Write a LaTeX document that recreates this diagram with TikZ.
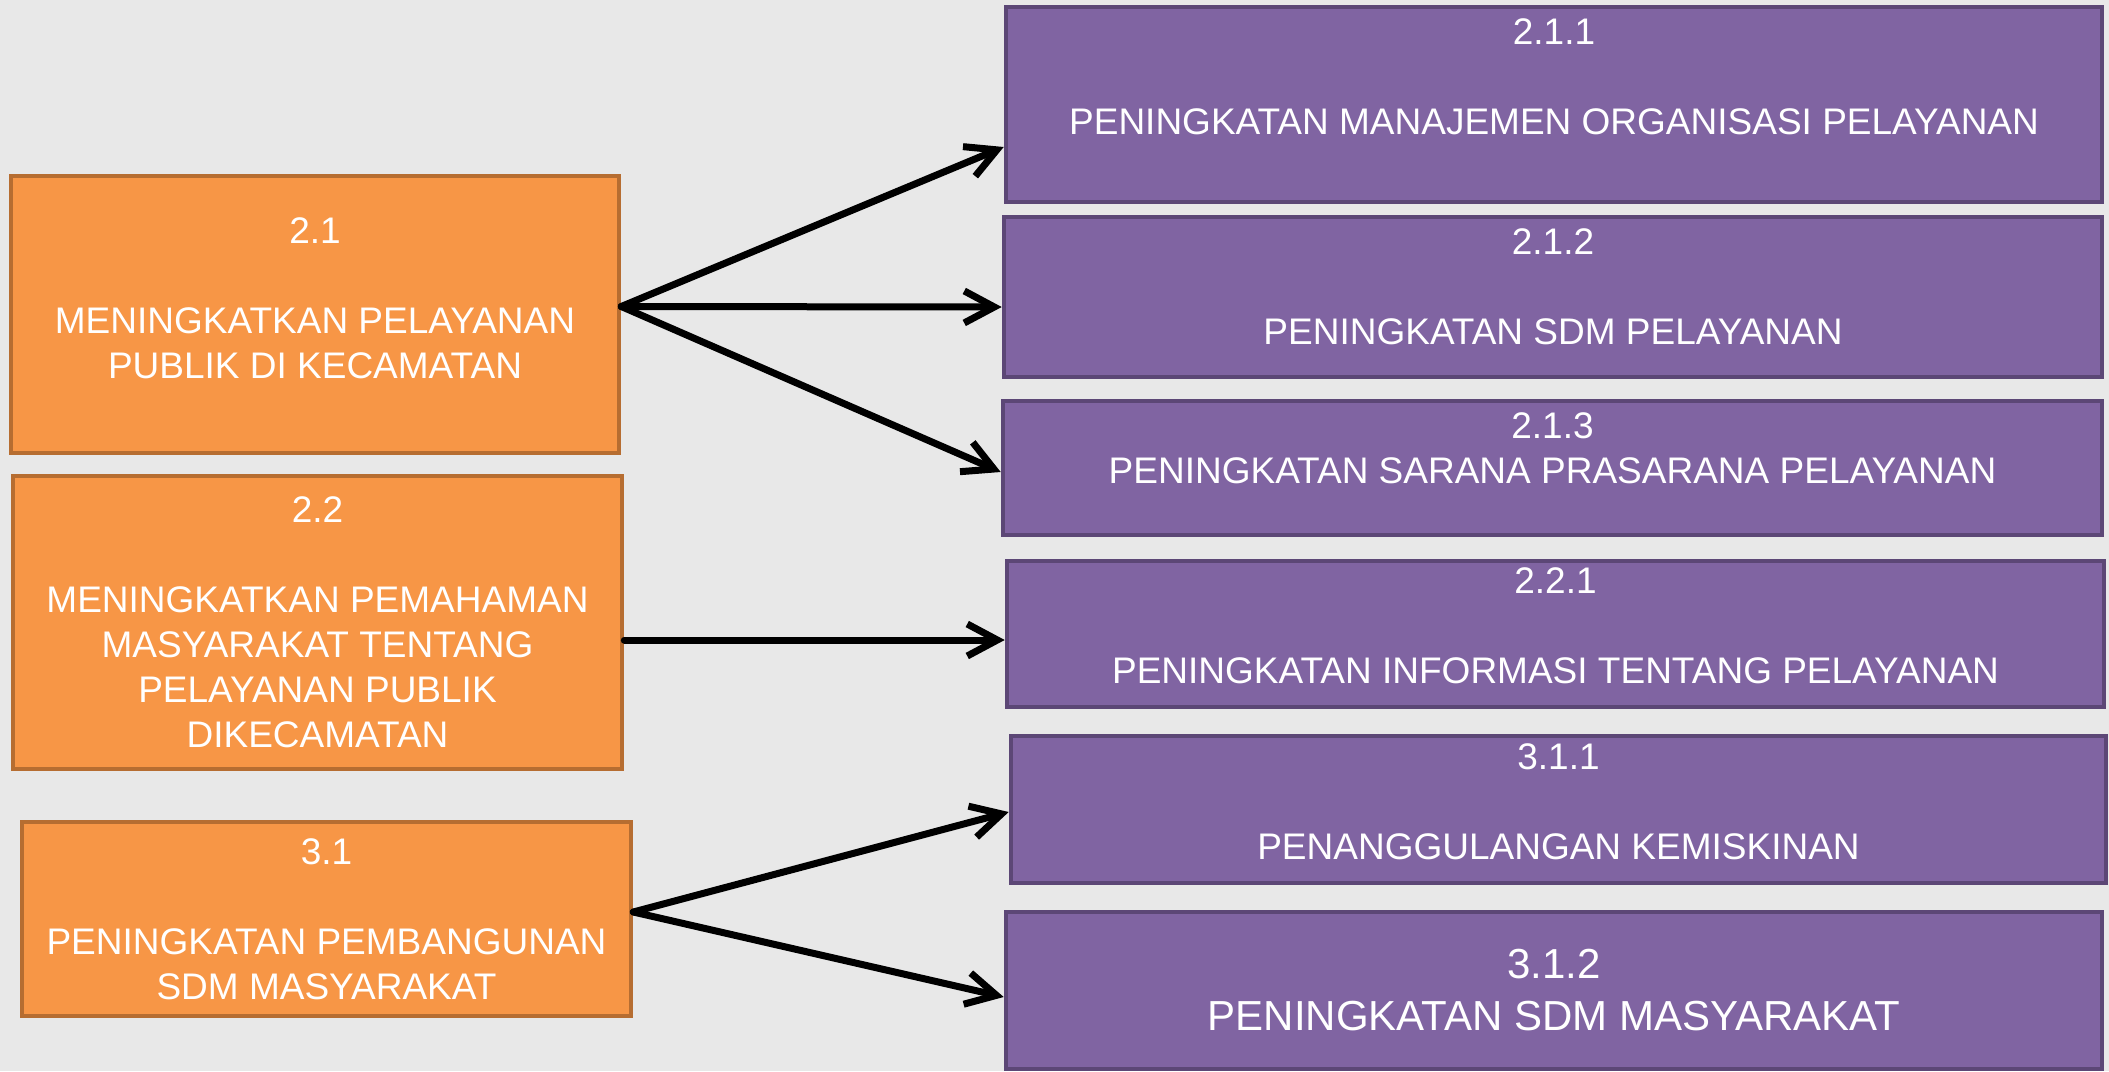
\documentclass[tikz,border=0pt]{standalone}
\usepackage{fontspec}
\setmainfont{Liberation Sans}
\usetikzlibrary{arrows.meta}
\definecolor{bggray}{HTML}{E8E8E8}
\definecolor{orfill}{HTML}{F79646}
\definecolor{ordraw}{HTML}{B66D31}
\definecolor{pufill}{HTML}{8064A2}
\definecolor{pudraw}{HTML}{5C4776}

\begin{document}
\begin{tikzpicture}[x=0.5pt,y=-0.5pt,
    obox/.style={draw=ordraw,fill=orfill,line width=2.3pt,text=white,align=center,
      inner sep=0pt,font=\fontsize{18.5}{22.5}\selectfont},
    pbox/.style={draw=pudraw,fill=pufill,line width=2.3pt,text=white,align=center,
      inner sep=0pt,font=\fontsize{18.5}{22.5}\selectfont},
    arr/.style={line width=3.5pt,line cap=round,-{Straight Barb[length=15pt,width=16pt]}}]
      \fill[bggray] (0,0) rectangle (2109,1071);
      \node[obox,minimum width=304pt,minimum height=138.5pt] (n21) at (315,314.5)
        {2.1\\[22.5pt]MENINGKATKAN PELAYANAN\\PUBLIK DI KECAMATAN\\[-6.5pt]\mbox{}};
      \node[obox,minimum width=304.5pt,minimum height=146.5pt] (n22) at (317.5,622.5)
        {2.2\\[22.5pt]MENINGKATKAN PEMAHAMAN\\MASYARAKAT TENTANG\\PELAYANAN PUBLIK\\DIKECAMATAN};
      \node[obox,minimum width=304.5pt,minimum height=97pt] (n31) at (326.5,919)
        {3.1\\[22.5pt]PENINGKATAN PEMBANGUNAN\\SDM MASYARAKAT};
      \node[pbox,minimum width=548pt,minimum height=97.5pt] (n211) at (1554,104.5)
        {2.1.1\\[22.5pt]PENINGKATAN MANAJEMEN ORGANISASI PELAYANAN\\[5pt]\mbox{}};
      \node[pbox,minimum width=549pt,minimum height=80pt] (n212) at (1553,297)
        {2.1.2\\[22.5pt]PENINGKATAN SDM PELAYANAN\\[-12pt]\mbox{}};
      \node[pbox,minimum width=549.5pt,minimum height=67pt] (n213) at (1552.5,468)
        {2.1.3\\PENINGKATAN SARANA PRASARANA PELAYANAN\\[-2.5pt]\mbox{}};
      \node[pbox,minimum width=548.5pt,minimum height=73pt] (n221) at (1555.5,634)
        {2.2.1\\[22.5pt]PENINGKATAN INFORMASI TENTANG PELAYANAN\\[-14.5pt]\mbox{}};
      \node[pbox,minimum width=547.5pt,minimum height=73.5pt] (n311) at (1558.5,809.5)
        {3.1.1\\[22.5pt]PENANGGULANGAN KEMISKINAN\\[-14.5pt]\mbox{}};
      \node[pbox,minimum width=548pt,minimum height=78.5pt,font=\fontsize{21}{26}\selectfont] (n312) at (1554,990.5)
        {3.1.2\\PENINGKATAN SDM MASYARAKAT};
      \draw[arr] ([yshift=4pt]n21.east) -- ([yshift=-21.25pt]n211.west);
      \draw[arr] ([yshift=4pt]n21.east) -- ([yshift=-5pt]n212.west);
      \draw[arr] ([yshift=4pt]n21.east) -- ([yshift=-2pt]n213.west);
      \draw[arr] ([yshift=-8.75pt]n22.east) -- ([yshift=-3pt]n221.west);
      \draw[arr] ([yshift=3.5pt]n31.east) -- ([yshift=-1.25pt]n311.west);
      \draw[arr] ([yshift=3.5pt]n31.east) -- ([yshift=-3.25pt]n312.west);
    \end{tikzpicture}
\end{document}
